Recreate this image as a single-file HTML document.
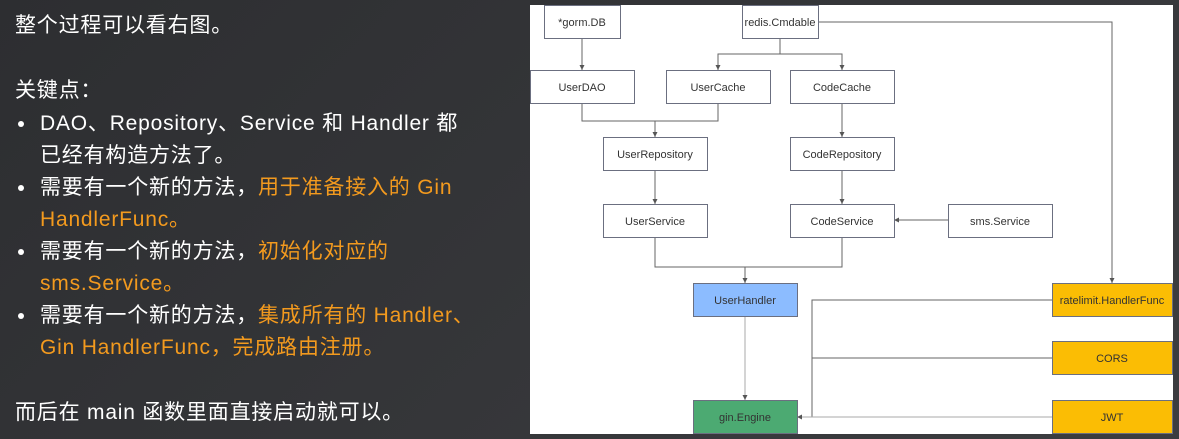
<!DOCTYPE html>
<html><head><meta charset="utf-8"><style>
body{margin:0;width:1179px;height:439px;overflow:hidden;background:linear-gradient(135deg,#2d2e31,#3c3d40);font-family:"Liberation Sans","Noto Sans CJK SC",sans-serif;position:relative}
.t{position:absolute;color:#fff;font-size:21px;letter-spacing:0.8px;white-space:nowrap;line-height:24px}
.o{color:#f39a1e}
.b{position:absolute;left:18px;width:6px;height:6px;border-radius:3px;background:#fff}
#panel{position:absolute;left:530px;top:5px;width:643px;height:429px;background:#fff}
</style></head><body>
<div class="t" style="left:15px;top:14px">整个过程可以看右图。</div>
<div class="t" style="left:15px;top:79px">关键点：</div>
<div class="b" style="top:121px"></div>
<div class="t" style="left:40px;top:112px">DAO、Repository、Service 和 Handler 都</div>
<div class="t" style="left:40px;top:144px">已经有构造方法了。</div>
<div class="b" style="top:185px"></div>
<div class="t" style="left:40px;top:176px">需要有一个新的方法，<span class="o">用于准备接入的 Gin</span></div>
<div class="t o" style="left:40px;top:208px">HandlerFunc。</div>
<div class="b" style="top:249px"></div>
<div class="t" style="left:40px;top:240px">需要有一个新的方法，<span class="o">初始化对应的</span></div>
<div class="t o" style="left:40px;top:272px">sms.Service。</div>
<div class="b" style="top:313px"></div>
<div class="t" style="left:40px;top:304px">需要有一个新的方法，<span class="o">集成所有的 Handler、</span></div>
<div class="t o" style="left:40px;top:336px">Gin HandlerFunc，完成路由注册。</div>
<div class="t" style="left:15px;top:401px">而后在 main 函数里面直接启动就可以。</div>
<div id="panel"></div>
<svg width="1179" height="439" style="position:absolute;left:0;top:0" font-family="Liberation Sans, sans-serif" font-size="11">
<defs><marker id="a" markerWidth="6" markerHeight="6" refX="5" refY="3" orient="auto"><path d="M0,0.5 L5,3 L0,5.5z" fill="#555"/></marker></defs>
<g fill="none" stroke="#666" stroke-width="1">
<path d="M582,38 V70" marker-end="url(#a)"/>
<path d="M780,38 V54 H718 V70" marker-end="url(#a)"/>
<path d="M780,54 H842 V70" marker-end="url(#a)"/>
<path d="M818,22 H1112 V283" marker-end="url(#a)"/>
<path d="M582,103 V121 H718 V103"/>
<path d="M655,121 V137" marker-end="url(#a)"/>
<path d="M842,103 V137" marker-end="url(#a)"/>
<path d="M655,170 V204" marker-end="url(#a)"/>
<path d="M842,170 V204" marker-end="url(#a)"/>
<path d="M948,220 H894" marker-end="url(#a)"/>
<path d="M655,237 V267 H842 V237"/>
<path d="M745,267 V283" marker-end="url(#a)"/>
<path d="M745,317 V400" stroke="#aaa" marker-end="url(#a)"/>
<path d="M1052,300 H812 V417"/>
<path d="M1052,358 H812"/>
<path d="M1052,417 H797" stroke="#aaa" marker-end="url(#a)"/>
</g>
<g stroke="#6b6f80" stroke-width="1" fill="#fff">
<rect x="544.5" y="5.5" width="76" height="33"/>
<rect x="742.5" y="5.5" width="76" height="33"/>
<rect x="530.5" y="70.5" width="104" height="33"/>
<rect x="666.5" y="70.5" width="104" height="33"/>
<rect x="790.5" y="70.5" width="104" height="33"/>
<rect x="603.5" y="137.5" width="104" height="33"/>
<rect x="790.5" y="137.5" width="104" height="33"/>
<rect x="603.5" y="204.5" width="104" height="33"/>
<rect x="790.5" y="204.5" width="104" height="33"/>
<rect x="948.5" y="204.5" width="104" height="33"/>
<rect x="693.5" y="283.5" width="104" height="33" fill="#8cbcff"/>
<rect x="693.5" y="400.5" width="104" height="33" fill="#4caa72"/>
<rect x="1052.5" y="283.5" width="120" height="33" fill="#fbbd04"/>
<rect x="1052.5" y="341.5" width="120" height="33" fill="#fbbd04"/>
<rect x="1052.5" y="400.5" width="120" height="33" fill="#fbbd04"/>
</g>
<g fill="#333" text-anchor="middle">
<text x="582" y="26">*gorm.DB</text>
<text x="780" y="26">redis.Cmdable</text>
<text x="582" y="91">UserDAO</text>
<text x="718" y="91">UserCache</text>
<text x="842" y="91">CodeCache</text>
<text x="655" y="158">UserRepository</text>
<text x="842" y="158">CodeRepository</text>
<text x="655" y="225">UserService</text>
<text x="842" y="225">CodeService</text>
<text x="1000" y="225">sms.Service</text>
<text x="745" y="304">UserHandler</text>
<text x="745" y="421">gin.Engine</text>
<text x="1112" y="304">ratelimit.HandlerFunc</text>
<text x="1112" y="362">CORS</text>
<text x="1112" y="421">JWT</text>
</g>
</svg>
</body></html>
